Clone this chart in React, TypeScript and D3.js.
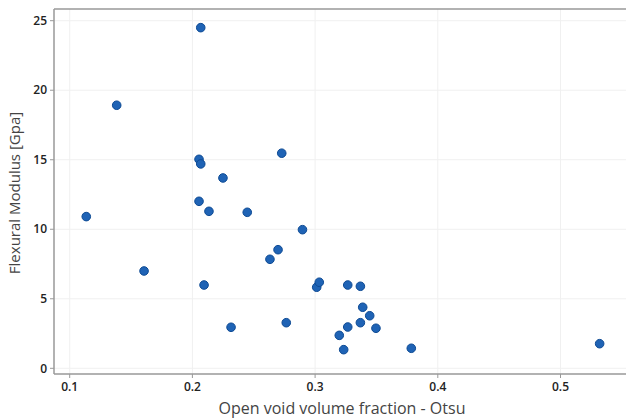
import React from "react";
import * as d3 from "d3";

// Open void volume fraction (Otsu threshold) vs. flexural modulus
const voidFraction = [
  0.2068, 0.1383, 0.2054, 0.2068, 0.2728, 0.2249, 0.2054, 0.1135, 0.2135, 0.2447,
  0.2897, 0.2698, 0.2632, 0.1606, 0.2095, 0.2315, 0.2765, 0.3013, 0.3034, 0.3266,
  0.3369, 0.3388, 0.3445, 0.3369, 0.3266, 0.3496, 0.3197, 0.3233, 0.3784, 0.5319,
];
const modulus = [
  24.5, 18.92, 15.03, 14.7, 15.47, 13.69, 12.01, 10.91, 11.29, 11.22,
  9.97, 8.53, 7.84, 7.0, 5.99, 2.95, 3.28, 5.83, 6.19, 5.99,
  5.9, 4.39, 3.78, 3.28, 2.97, 2.88, 2.37, 1.34, 1.44, 1.77,
];
const xTicks = [0.1, 0.2, 0.3, 0.4, 0.5];
const yTicks = [0, 5, 10, 15, 20, 25];

const W = 626;
const H = 419;
const left = 54;
const right = 626;
const top = 9;
const bottom = 374;

export default function App() {
  const x = d3.scaleLinear().domain([0.1, 0.2]).range([69.7, 192.4]);
  const y = d3.scaleLinear().domain([0, 25]).range([368.3, 20.7]);
  const font = "'Open Sans', 'Noto Sans', sans-serif";
  const pts = voidFraction.map((v, i) => ({ x: v, y: modulus[i] }));

  return (
    <svg
      width={W}
      height={H}
      style={{ position: "absolute", left: 0, top: 0, background: "#fff" }}
    >
      {/* grid */}
      {xTicks.map((t) => (
        <line key={"gx" + t} x1={x(t)} x2={x(t)} y1={top} y2={bottom} stroke="#f0f0f0" strokeWidth={1} />
      ))}
      {yTicks.map((t) => (
        <line key={"gy" + t} x1={left} x2={right} y1={y(t)} y2={y(t)} stroke="#f0f0f0" strokeWidth={1} />
      ))}

      {/* frame */}
      <line x1={left} x2={right} y1={top} y2={top} stroke="#999" strokeWidth={1.5} />
      <line x1={left} x2={left} y1={top} y2={bottom} stroke="#999" strokeWidth={1.5} />
      <line x1={left} x2={right} y1={bottom} y2={bottom} stroke="#999" strokeWidth={1.5} />

      {/* y ticks */}
      {yTicks.map((t) => (
        <g key={"ty" + t}>
          <line x1={left - 4} x2={left} y1={y(t)} y2={y(t)} stroke="#999" strokeWidth={1} />
          <text
            x={left - 7}
            y={y(t)}
            dy="0.35em"
            textAnchor="end"
            fontFamily={font}
            fontSize={12}
            fontWeight={600}
            fill="#222"
          >
            {t}
          </text>
        </g>
      ))}

      {/* x ticks */}
      {xTicks.map((t) => (
        <g key={"tx" + t}>
          <line x1={x(t)} x2={x(t)} y1={bottom} y2={bottom + 4} stroke="#999" strokeWidth={1} />
          <text
            x={x(t)}
            y={bottom + 17}
            textAnchor="middle"
            fontFamily={font}
            fontSize={12}
            fontWeight={600}
            fill="#222"
          >
            {d3.format(".1f")(t)}
          </text>
        </g>
      ))}

      {/* points */}
      {pts.map((p, i) => (
        <circle
          key={i}
          cx={x(p.x)}
          cy={y(p.y)}
          r={4.3}
          fill="#1f63b5"
          stroke="#0d4a94"
          strokeWidth={1}
        />
      ))}

      {/* axis titles */}
      <text
        x={342}
        y={414}
        textAnchor="middle"
        fontFamily={font}
        fontSize={16}
        fill="#444"
      >
        Open void volume fraction - Otsu
      </text>
      <text
        transform={`translate(20,193) rotate(-90)`}
        textAnchor="middle"
        fontFamily={font}
        fontSize={15}
        fill="#444"
      >
        Flexural Modulus [Gpa]
      </text>
    </svg>
  );
}
